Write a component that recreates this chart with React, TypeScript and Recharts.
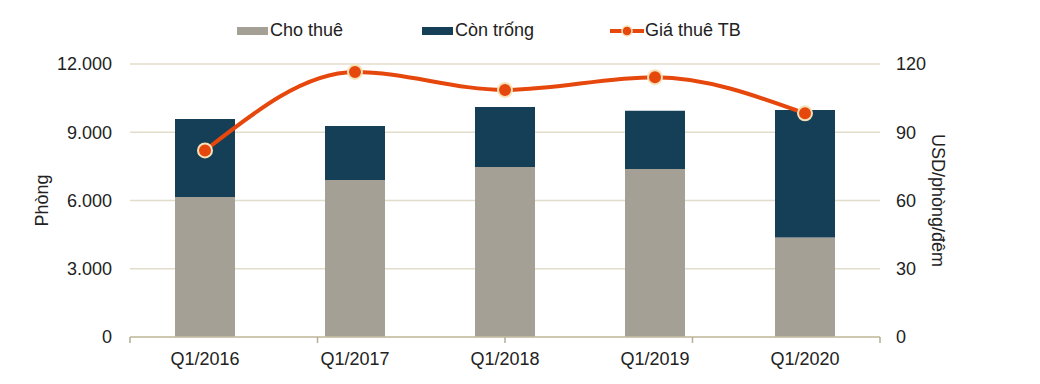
import { ComposedChart, Bar, Line, XAxis, YAxis, CartesianGrid } from 'recharts'

const quarters = ['Q1/2016', 'Q1/2017', 'Q1/2018', 'Q1/2019', 'Q1/2020']
const leased = [6150, 6900, 7470, 7390, 4370]
const vacant = [3430, 2380, 2640, 2560, 5610]
const avgRate = [82, 116.5, 108.6, 114.2, 98.3]
const leftTicks = [0, 3000, 6000, 9000, 12000]
const rightTicks = [0, 30, 60, 90, 120]
const edgeTicks = [0, 1, 2, 3, 4, 5]

const GRAY = '#a4a095'
const TEAL = '#143f56'
const ORANGE = '#e5470c'
const AXIS = '#c6bea5'
const GRID = '#e2dccb'
const TEXT = '#222'
const FONT = '"Liberation Sans", Arial, sans-serif'

const data = quarters.map((q, i) => ({
  q,
  leased: leased[i],
  vacant: vacant[i],
  rate: avgRate[i],
}))

const fmt = (v: number) => v.toLocaleString('de-DE')

function AxisTitle({ viewBox, value, angle, shift }: any) {
  const cx = viewBox.x + shift
  const cy = viewBox.y + viewBox.height / 2
  return (
    <text
      x={cx}
      y={cy}
      transform={`rotate(${angle}, ${cx}, ${cy})`}
      textAnchor="middle"
      dominantBaseline="central"
      fill={TEXT}
      fontSize={18}
    >
      {value}
    </text>
  )
}

function LegendBox() {
  const item = { position: 'absolute' as const, top: 20, display: 'flex', alignItems: 'center', fontSize: 18, color: TEXT }
  return (
    <div style={{ position: 'absolute', left: 0, top: 0, width: 1040, height: 44, fontFamily: FONT }}>
      <div style={{ ...item, left: 237 }}>
        <span style={{ width: 31, height: 8, background: GRAY, marginRight: 2 }} />
        Cho thuê
      </div>
      <div style={{ ...item, left: 422 }}>
        <span style={{ width: 31, height: 8, background: TEAL, marginRight: 2 }} />
        Còn trống
      </div>
      <div style={{ ...item, left: 610 }}>
        <svg width={34} height={14} style={{ marginRight: 1 }}>
          <line x1={0} y1={7} x2={34} y2={7} stroke={ORANGE} strokeWidth={4} />
          <circle cx={17} cy={7} r={5} fill={ORANGE} stroke="#f6e2b8" strokeWidth={1.5} />
        </svg>
        Giá thuê TB
      </div>
    </div>
  )
}

export default function App() {
  return (
    <div style={{ position: 'absolute', left: 0, top: 0, width: 1040, height: 384, background: '#fff' }}>
      <ComposedChart
        width={1040}
        height={384}
        data={data}
        margin={{ top: 64, right: 60, bottom: 16, left: 30 }}
        barSize={60}
        style={{ fontFamily: FONT }}
      >
        <CartesianGrid vertical={false} stroke={GRID} strokeWidth={1.5} yAxisId="left" xAxisId="main" />
        {/* ticks between categories, like the original */}
        <XAxis
          xAxisId="edge"
          type="number"
          domain={[0, 5]}
          allowDataOverflow
          ticks={edgeTicks}
          interval={0}
          height={1}
          axisLine={{ stroke: AXIS, strokeWidth: 1.5 }}
          tickLine={{ stroke: '#b5ad96', strokeWidth: 1.5 }}
          tickSize={6}
          tickFormatter={() => ''}
        />
        <XAxis
          dataKey="q"
          xAxisId="main"
          axisLine={false}
          tickLine={false}
          height={30}
          tickMargin={8}
          tick={{ fill: TEXT, fontSize: 18 }}
        />
        <YAxis
          yAxisId="left"
          width={100}
          domain={[0, 12000]}
          ticks={leftTicks}
          tickFormatter={fmt}
          axisLine={false}
          tickLine={false}
          tickMargin={12}
          tick={{ fill: TEXT, fontSize: 18 }}
          label={{ value: 'Phòng', content: (p: any) => <AxisTitle {...p} value="Phòng" angle={-90} shift={12} /> }}
        />
        <YAxis
          yAxisId="right"
          orientation="right"
          width={100}
          domain={[0, 120]}
          ticks={rightTicks}
          axisLine={false}
          tickLine={false}
          tickMargin={10}
          tick={{ fill: TEXT, fontSize: 18, textAnchor: 'start' }}
          label={{
            value: 'USD/phòng/đêm',
            content: (p: any) => <AxisTitle {...p} value="USD/phòng/đêm" angle={90} shift={58} />,
          }}
        />
        <Bar dataKey="leased" name="Cho thuê" stackId="a" xAxisId="main" yAxisId="left" fill={GRAY} isAnimationActive={false} />
        <Bar dataKey="vacant" name="Còn trống" stackId="a" xAxisId="main" yAxisId="left" fill={TEAL} isAnimationActive={false} />
        <Line
          dataKey="rate"
          name="Giá thuê TB"
          type="monotone"
          xAxisId="main"
          yAxisId="right"
          stroke={ORANGE}
          strokeWidth={4}
          dot={{ r: 7, fill: ORANGE, stroke: '#f6e2b8', strokeWidth: 2 }}
          isAnimationActive={false}
        />
      </ComposedChart>
      <LegendBox />
    </div>
  )
}
